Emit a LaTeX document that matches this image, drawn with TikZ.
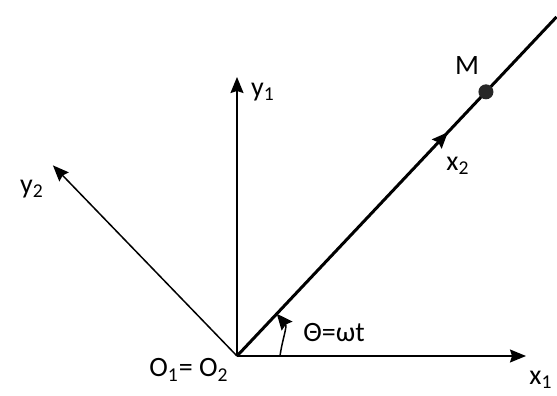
\documentclass[tikz,border=0pt]{standalone}
\usepackage{fontspec}
\setmainfont{Carlito}
\usetikzlibrary{positioning,arrows.meta,decorations.markings}
\tikzset{
  axis/.style={-{Stealth[length=8pt,width=6.5pt,inset=1pt]},line width=0.75pt},
  rotax/.style={line width=1.5pt,postaction={decorate},decoration={markings,
      mark=at position 0.66 with {\arrow{Stealth[length=8pt,width=6.5pt,inset=1pt]}}}}, % moving axis x2
  angarc/.style={-{Stealth[length=8pt,width=7pt,inset=1pt]},line width=0.75pt},
  pt/.style={circle,fill=black!85,inner sep=0pt,minimum size=7.5pt},
  lbl/.style={font=\fontsize{14}{16}\selectfont,inner sep=1pt},
}
\begin{document}
\begin{tikzpicture}[x=0.5pt,y=0.5pt]
  \def\th{46.7}
  \useasboundingbox (-237,-40) rectangle (320,356);
  \coordinate (O) at (0,0);
  \coordinate (X1) at (289,0);
  \coordinate (Y1) at (0,279);
  \coordinate (Y2) at (134:265);
  \coordinate (X2) at (\th:466);
  \draw[axis] (O) -- (X1);
  \draw[axis] (O) -- (Y1);
  \draw[axis] (O) -- (Y2);
  \draw[rotax] (O) -- (X2);
  \node[pt] (M) at (\th:363) {};
  % angle theta
  \coordinate (A0) at (43,0);
  \coordinate (A1) at (\th:58);
  \draw[angarc] (A0) to[out=82,in=-50] (A1);
  \node[lbl] (x1l) at (304,-24) {x\textsubscript{1}};
  \node[lbl] (y1l) at (26,264) {y\textsubscript{1}};
  \node[lbl] (y2l) at (-205,167) {y\textsubscript{2}};
  \node[lbl] (x2l) at (221,190) {x\textsubscript{2}};
  \node[lbl] (Ml) at (230,290) {M};
  \node[lbl] (Ol) at (-48,-14) {O\textsubscript{1}= O\textsubscript{2}};
  \node[lbl] (thl) at (97,23) {Θ=ωt};
\end{tikzpicture}
\end{document}
